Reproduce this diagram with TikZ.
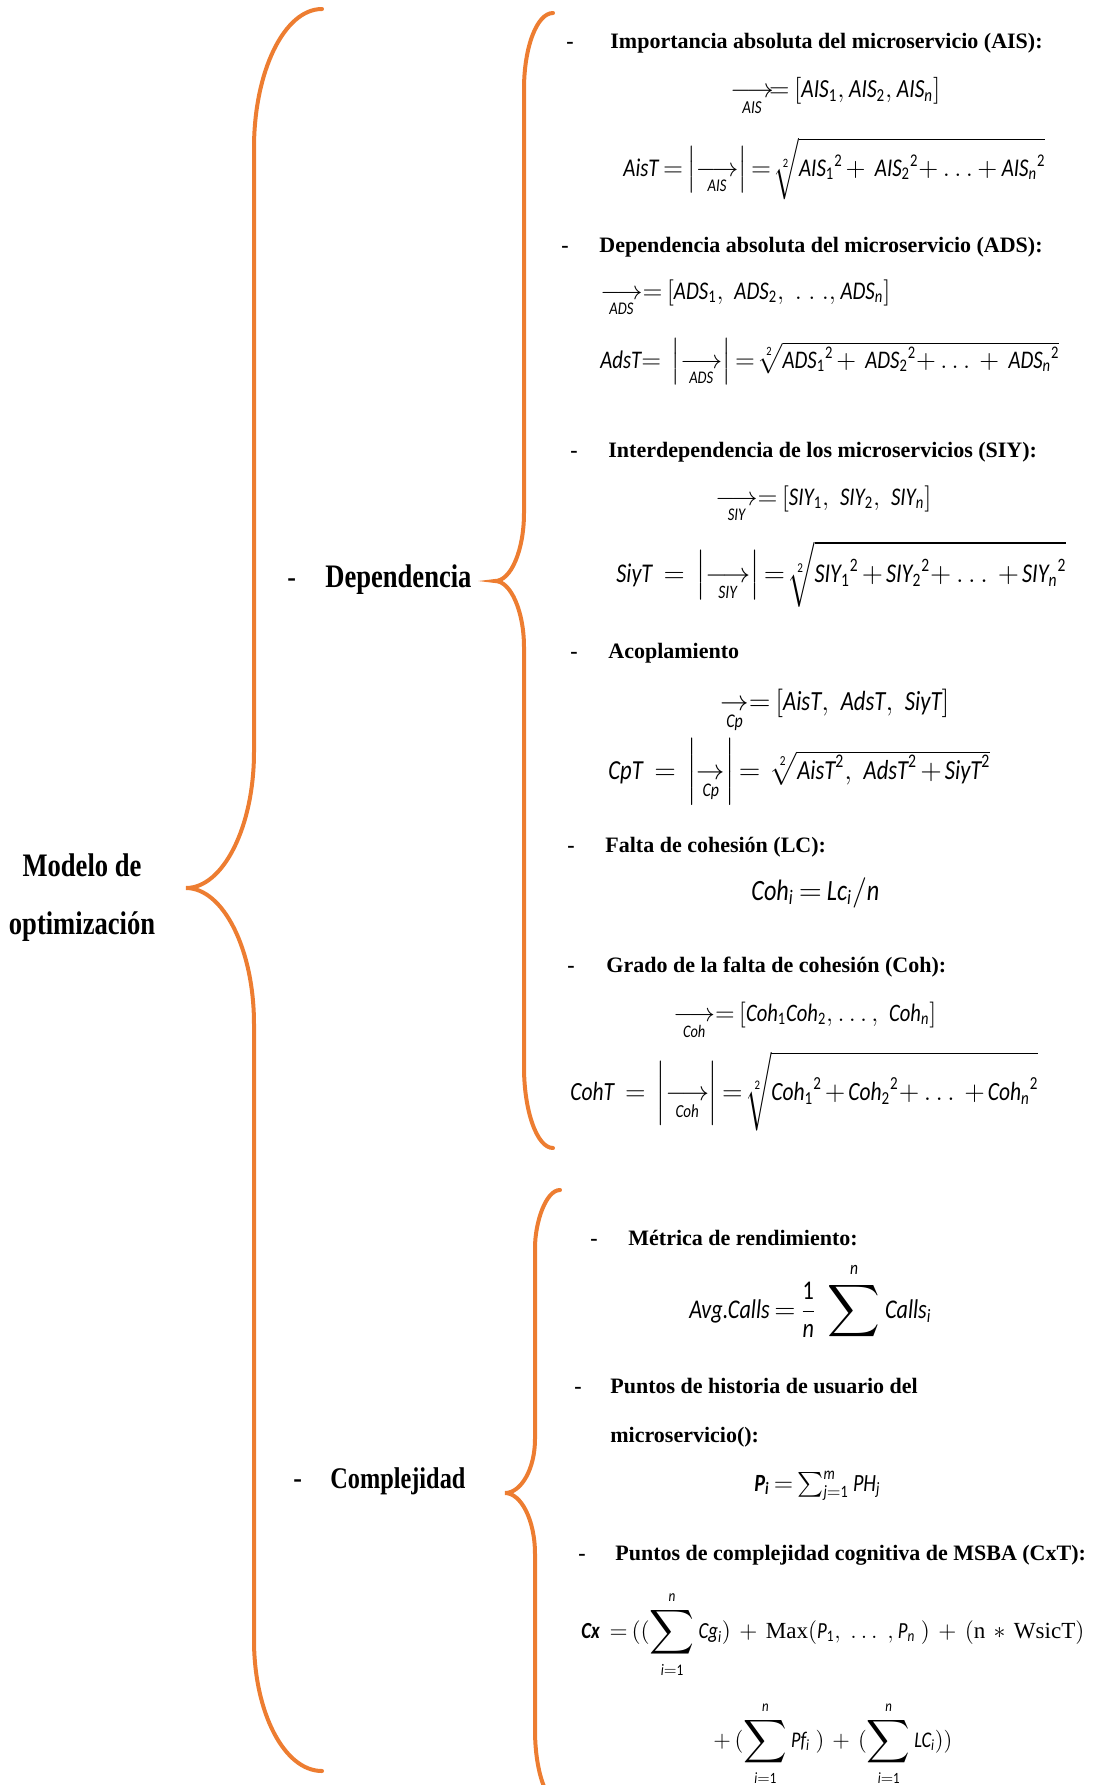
\documentclass[tikz,border=0pt]{standalone}
\usepackage{amsmath,amssymb}
\usepackage{graphicx}
\usepackage{fontspec}
\setmainfont{Liberation Serif}
\newfontfamily\ttl{Liberation Serif}
\newfontfamily\lbl[FakeStretch=0.81]{Liberation Serif}
\newfontfamily\cf[FakeStretch=0.82]{Carlito}
\newcommand\fmv[1]{\text{\cf\itshape #1}}
\newcommand\fmb[1]{\text{\cf\bfseries\itshape #1}}
\newcommand\fcu[1]{\text{\cf #1}}
\newcommand\ftu[1]{\text{\ttl #1}}
\newcommand\vecl[1]{\underset{\fmv{#1}}{\longrightarrow}}
\newcommand\fitw[2]{\resizebox{#1pt}{!}{#2}}
\newcommand\uplim[1]{#1\rule[-2pt]{0pt}{2pt}}
\newcommand\lolim[1]{\rule{0pt}{9pt}#1}
\newcommand\bigsum{\mathop{\vcenter{\hbox{\scalebox{1.35}{$\displaystyle\sum$}}}}\limits}
\newcommand\tightmath{\thickmuskip=3mu\relax\medmuskip=2mu\relax}
\definecolor{braceorange}{HTML}{ED7D31}
\tikzset{
  bracepath/.style={draw=braceorange, line width=2pt, line cap=round},
  ttl/.style={anchor=base west, inner sep=0pt, font=\ttl\bfseries\fontsize{11}{13}\selectfont},
  dsh/.style={anchor=base west, inner sep=0pt, font=\ttl\bfseries\fontsize{11}{13}\selectfont},
  lbl/.style={anchor=base west, inner sep=0pt, font=\lbl\bfseries\fontsize{16.4}{19}\selectfont},
  lbls/.style={anchor=base west, inner sep=0pt, font=\lbl\bfseries\fontsize{15}{18}\selectfont},
  lbld/.style={anchor=base west, inner sep=0pt, font=\lbl\fontsize{16}{19}\selectfont},
  lblc/.style={anchor=base, inner sep=0pt, font=\lbl\bfseries\fontsize{16.4}{19}\selectfont},
  frm/.style={anchor=base west, inner sep=0pt, font=\fontsize{14}{17}\selectfont},
}
\begin{document}
\begin{tikzpicture}[x=0.5pt,y=-0.5pt]
\useasboundingbox (0,0) rectangle (1094,1785);
\clip (0,0) rectangle (1094,1785);

% ---- braces
\draw[bracepath] (322,9) .. controls (284,9) and (254,72) .. (254,148) -- (254,752)
  .. controls (254,827) and (223,888) .. (186,888)
  .. controls (223,888) and (254,949) .. (254,1024) -- (254,1640)
  .. controls (254,1712) and (284,1771) .. (322,1771);
\draw[bracepath] (553,13) .. controls (537,13) and (524,47) .. (524,89) -- (524,513)
  .. controls (524,550) and (511,581) .. (495,581)
  .. controls (511,581) and (524,612) .. (524,647) -- (524,1067)
  .. controls (524,1111) and (537,1148) .. (553,1148);
\draw[bracepath] (560,1190) .. controls (546,1190) and (535,1222) .. (535,1248) -- (535,1439)
  .. controls (535,1469) and (521,1493) .. (505,1493)
  .. controls (521,1493) and (535,1520) .. (535,1554) -- (535,1730)
  .. controls (535,1770) and (546,1805) .. (562,1805);

% ---- root and branch labels
\node[lblc] (root1) at (82,876) {Modelo de};
\node[lblc] (root2) at (82,934) {optimización};
\node[lbld] (depd) at (287,587) {-};
\node[lbl]  (dep)  at (325,587) {Dependencia};
\node[lbld] (comd) at (293,1488) {-};
\node[lbls] (com)  at (330,1488) {Complejidad};

% ---- Dependencia items
\node[dsh] (d1) at (566,48) {-};
\node[ttl] (t1) at (610,48) {Importancia absoluta del microservicio (AIS):};
\node[frm] (f2) at (730,97) {\fitw{105}{$\tightmath\vecl{AIS}\!=[\fmv{AIS}_{\fcu1},\fmv{AIS}_{\fcu2},\fmv{AIS}_{\fmv n}]$}};
\node[frm] (f3) at (623,176) {\fitw{211}{$\tightmath\fmv{AisT} = \left|\vecl{AIS}\right| = \sqrt[\fcu2]{\vphantom{\left|\vecl{AIS}\right|}{\fmv{AIS}_{\fcu1}}^{\fcu2} +\ {\fmv{AIS}_{\fcu2}}^{\fcu2}{+}\ldots{+}\,{\fmv{AIS}_{\fmv n}}^{\fcu2}}$}};

\node[dsh] (d2) at (561,252) {-};
\node[ttl] (t2) at (599,252) {Dependencia absoluta del microservicio (ADS):};
\node[frm] (f5) at (600,299) {\fitw{145}{$\tightmath\vecl{ADS} = [\fmv{ADS}_{\fcu1},\ \fmv{ADS}_{\fcu2},\ .\ .\ .,\fmv{ADS}_{\fmv n}]$}};
\node[frm] (f6) at (600,368) {\fitw{229.5}{$\tightmath\fmv{AdsT}{=}\ \left|\vecl{ADS}\right| = \sqrt[\fcu2]{{\fmv{ADS}_{\fcu1}}^{\fcu2} +\ {\fmv{ADS}_{\fcu2}}^{\fcu2}{+}\ldots\ +\ {\fmv{ADS}_{\fmv n}}^{\fcu2}}$}};

\node[dsh] (d3) at (570,457) {-};
\node[ttl] (t3) at (608,457) {Interdependencia de los microservicios (SIY):};
\node[frm] (f8) at (715,505) {\fitw{108}{$\tightmath\vecl{SIY} = [\fmv{SIY}_{\fcu1},\ \fmv{SIY}_{\fcu2},\ \fmv{SIY}_{\fmv n}]$}};
\node[frm] (f9) at (616,582) {\fitw{225}{$\tightmath\fmv{SiyT}\ =\ \left|\vecl{SIY}\right| = \sqrt[\fcu2]{\vphantom{\left|\vecl{SIY}\right|}{\fmv{SIY}_{\fcu1}}^{\fcu2} + {\fmv{SIY}_{\fcu2}}^{\fcu2}{+}\ldots\ + {\fmv{SIY}_{\fmv n}}^{\fcu2}}$}};

\node[dsh] (d4) at (570,658) {-};
\node[ttl] (t4) at (608,658) {Acoplamiento};
\node[frm] (f11) at (720,710) {\fitw{114.5}{$\tightmath\underset{\fmv{Cp}}{\rightarrow} = [\fmv{AisT},\ \fmv{AdsT},\ \fmv{SiyT}]$}};
\node[frm] (f12) at (608,779) {\fitw{191}{$\tightmath\fmv{CpT}\ =\ \left|\underset{\fmv{Cp}}{\rightarrow}\right| =\ \sqrt[\fcu2]{\fmv{AisT}^{\fcu2},\ \fmv{AdsT}^{\fcu2} + \fmv{SiyT}^{\fcu2}}$}};

\node[dsh] (d5) at (567,852) {-};
\node[ttl] (t5) at (605,852) {Falta de cohesión (LC):};
\node[frm] (f14) at (751,900) {\fitw{64}{$\tightmath\fmv{Coh}_{\fmv i} = \fmv{Lc}_{\fmv i}/\fmv{n}$}};

\node[dsh] (d6) at (567,972) {-};
\node[ttl] (t6) at (606,972) {Grado de la falta de cohesión (Coh):};
\node[frm] (f16) at (673,1021) {\fitw{131.5}{$\tightmath\vecl{Coh} = [\fmv{Coh}_{\fcu1}\fmv{Coh}_{\fcu2},\ldots,\ \fmv{Coh}_{\fmv n}]$}};
\node[frm] (f17) at (570,1100) {\fitw{234}{$\tightmath\fmv{CohT}\ =\ \left|\vecl{Coh}\right| = \sqrt[\fcu2]{\vphantom{\left|\vecl{Coh}\right|}{\fmv{Coh}_{\fcu1}}^{\fcu2} + {\fmv{Coh}_{\fcu2}}^{\fcu2}{+}\ldots\ + {\fmv{Coh}_{\fmv n}}^{\fcu2}}$}};

% ---- Complejidad items
\node[dsh] (d7) at (590,1245) {-};
\node[ttl] (t7) at (628,1245) {Métrica de rendimiento:};
\node[frm] (f19) at (689,1318) {\fitw{121}{$\tightmath\displaystyle\fmv{Avg.Calls} = \frac{\fcu1}{\fmv n}\ \bigsum^{\uplim{\fmv n}}\fmv{Calls}_{\fmv i}$}};

\node[dsh] (d8) at (574,1393) {-};
\node[ttl] (t8) at (610,1393) {Puntos de historia de usuario del};
\node[ttl] (t8b) at (610,1442) {microservicio():};
\node[frm] (f22) at (754,1491) {\fitw{63}{$\tightmath\fmb{P}_{\fmb{i}} = \sum_{\fmv{j}=\fcu1}^{\fmv{m}}\fmv{PH}_{\fmv{j}}$}};

\node[dsh] (d9) at (578,1560) {-};
\node[ttl] (t9) at (615,1560) {Puntos de complejidad cognitiva de MSBA (CxT):};
\node[frm] (f24) at (581,1638) {\fitw{251.5}{$\tightmath\displaystyle\fmb{Cx}\ =((\bigsum_{\lolim{\fmv i=\fcu1}}^{\uplim{\fmv n}}\fmv{Cg}_{\fmv i})\ +\ \ftu{Max}(\fmv{P}_{\fcu1},\ \ldots\ ,\fmv{P}_{\fmv n}\ )\ +\ (\ftu{n}\ \ast\ \ftu{WsicT})$}};
\node[frm] (f25) at (713,1747) {\fitw{119.5}{$\tightmath\displaystyle+\,(\bigsum_{\lolim{\fmv i=\fcu1}}^{\uplim{\fmv n}}\fmv{Pf}_{\fmv i}\ )\ +\ (\bigsum_{\lolim{\fmv i=\fcu1}}^{\uplim{\fmv n}}\fmv{LC}_{\fmv i}))$}};
\end{tikzpicture}
\end{document}
